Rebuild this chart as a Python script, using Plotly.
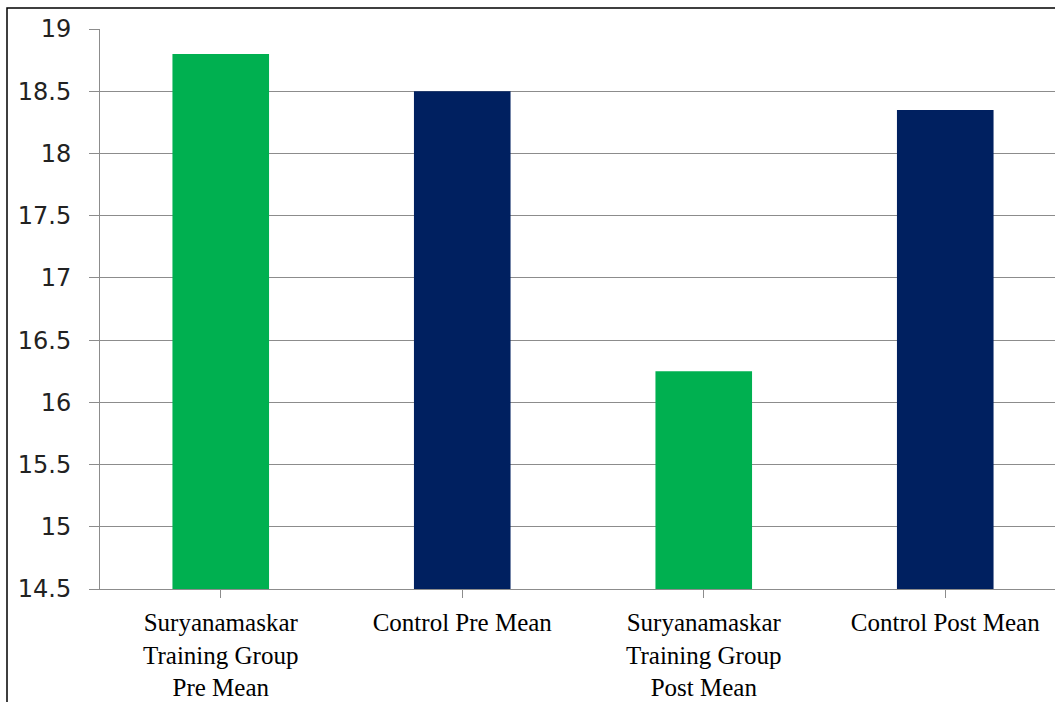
import plotly.graph_objects as go

categories = ["Suryanamaskar<br>Training Group<br>Pre Mean", "Control Pre Mean",
              "Suryanamaskar<br>Training Group<br>Post Mean", "Control Post Mean"]
values = [18.8, 18.5, 16.25, 18.35]
colors = ["#00B050", "#002060", "#00B050", "#002060"]
y_ticks = [14.5, 15, 15.5, 16, 16.5, 17, 17.5, 18, 18.5, 19]
y_tick_labels = ["14.5", "15", "15.5", "16", "16.5", "17", "17.5", "18", "18.5", "19"]

W, H = 1055, 702
ml, mt, mr, mb = 100, 29, 0, 113
pw, ph = W - ml - mr, H - mt - mb

fig = go.Figure(go.Bar(x=list(range(len(categories))), y=values, marker_color=colors,
                       marker_line_width=0, width=0.4))

fig.update_layout(
    width=W, height=H,
    margin=dict(l=ml, r=mr, t=mt, b=mb, pad=0),
    plot_bgcolor="white", paper_bgcolor="white",
    showlegend=False,
    xaxis=dict(
        tickmode="array", tickvals=list(range(len(categories))), ticktext=categories,
        range=[-0.5, 3.5 - 11 / 241.5],
        showgrid=False, showline=True, linecolor="#8C8C8C", linewidth=1,
        ticks="outside", tickson="boundaries", ticklen=8, tickcolor="#8C8C8C",
        tickfont=dict(family="Liberation Serif", size=25, color="black"),
        automargin=False, ticklabelstandoff=3,
    ),
    yaxis=dict(
        range=[14.5, 19], tickmode="array", tickvals=y_ticks, ticktext=y_tick_labels,
        showgrid=True, gridcolor="#8C8C8C", gridwidth=1,
        showline=True, linecolor="#8C8C8C", linewidth=1,
        ticks="outside", ticklen=10, tickcolor="#8C8C8C",
        tickfont=dict(family="DejaVu Sans", size=24, color="#222222"),
        automargin=False, ticklabelstandoff=13, zeroline=False,
    ),
    shapes=[dict(type="rect", xref="paper", yref="paper",
                 x0=(7 - ml) / pw, x1=1.2, y0=-0.5, y1=1 + (mt - 8) / ph,
                 line=dict(color="black", width=1.5), fillcolor="rgba(0,0,0,0)", layer="below")],
)

fig.write_html("out.html")
